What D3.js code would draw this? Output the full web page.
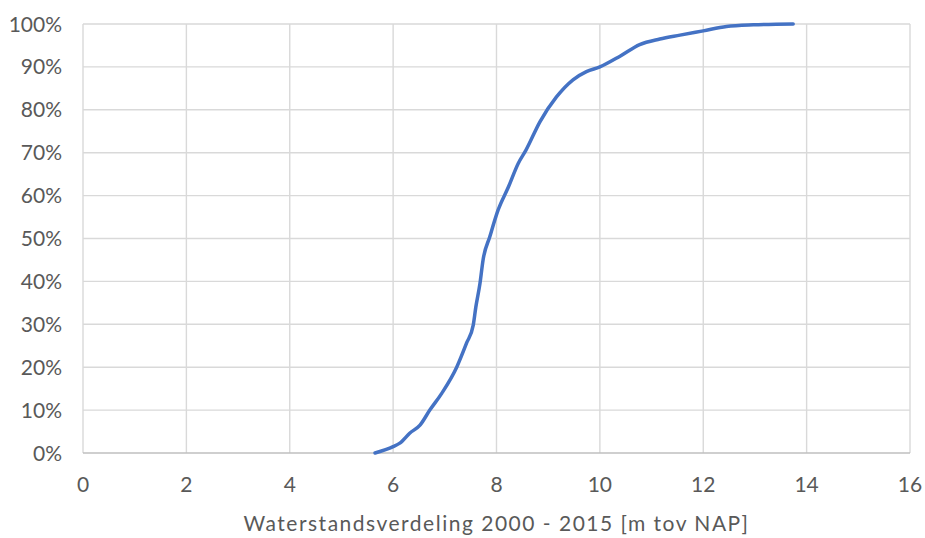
<!DOCTYPE html>
<html>
<head>
<meta charset="utf-8">
<script src="https://cdn.jsdelivr.net/npm/d3@7"></script>
<style>
  html, body { margin: 0; padding: 0; background: #ffffff; }
  svg { display: block; }
</style>
</head>
<body>
<svg id="chart" width="925" height="538"></svg>
<script>
// Cumulative distribution of water levels, 2000 - 2015 (m relative to NAP)
const waterLevel = [5.65, 6.0, 6.13, 6.32, 6.52, 6.71, 6.94, 7.23, 7.42, 7.55, 7.60, 7.68, 7.74, 7.87, 8.03, 8.23, 8.42, 8.57, 8.84, 9.16, 9.48, 9.74, 10.0, 10.39, 10.77, 11.16, 11.55, 12.0, 12.45, 12.97, 13.74];
const cumulativeShare = [0.0, 0.015, 0.023, 0.046, 0.065, 0.10, 0.139, 0.20, 0.256, 0.298, 0.34, 0.395, 0.45, 0.504, 0.566, 0.62, 0.675, 0.706, 0.772, 0.83, 0.87, 0.889, 0.90, 0.925, 0.952, 0.965, 0.974, 0.984, 0.994, 0.998, 1.0];
const xTicks = [0, 2, 4, 6, 8, 10, 12, 14, 16];
const yTicks = [0, 0.1, 0.2, 0.3, 0.4, 0.5, 0.6, 0.7, 0.8, 0.9, 1.0];
const xTitle = "Waterstandsverdeling 2000 - 2015 [m tov NAP]";

const svg = d3.select("#chart");
const margin = { left: 83, right: 15, top: 24, bottom: 85 };
const width = 925, height = 538;
const font = "Lato, 'Open Sans', sans-serif";

const x = d3.scaleLinear().domain([0, 16]).range([margin.left, width - margin.right]);
const y = d3.scaleLinear().domain([0, 1]).range([height - margin.bottom, margin.top]);

// vertical gridlines
svg.append("g").selectAll("line").data(xTicks).join("line")
  .attr("x1", d => x(d)).attr("x2", d => x(d))
  .attr("y1", y(1)).attr("y2", y(0))
  .attr("stroke", "#d9d9d9").attr("stroke-width", 1.4);

// horizontal gridlines
svg.append("g").selectAll("line").data(yTicks.filter(d => d > 0)).join("line")
  .attr("x1", x(0)).attr("x2", x(16))
  .attr("y1", d => y(d)).attr("y2", d => y(d))
  .attr("stroke", "#d9d9d9").attr("stroke-width", 1.4);

// horizontal axis line
svg.append("line")
  .attr("x1", x(0)).attr("x2", x(16))
  .attr("y1", y(0)).attr("y2", y(0))
  .attr("stroke", "#bfbfbf").attr("stroke-width", 1.4);

// y tick labels
svg.append("g").selectAll("text").data(yTicks).join("text")
  .attr("x", x(0) - 21).attr("y", d => y(d))
  .attr("dy", "0.36em")
  .attr("text-anchor", "end")
  .attr("font-family", font).attr("font-size", 21)
  .attr("fill", "#595959")
  .text(d => d3.format(".0%")(d));

// x tick labels
svg.append("g").selectAll("text").data(xTicks).join("text")
  .attr("x", d => x(d)).attr("y", y(0) + 31)
  .attr("dy", "0.36em")
  .attr("text-anchor", "middle")
  .attr("font-family", font).attr("font-size", 21)
  .attr("fill", "#595959")
  .text(d => d);

// axis title
svg.append("text")
  .attr("x", x(8)).attr("y", 523)
  .attr("dy", "0.36em")
  .attr("text-anchor", "middle")
  .attr("font-family", font).attr("font-size", 21)
  .attr("letter-spacing", 1.5)
  .attr("fill", "#595959")
  .text(xTitle);

// distribution curve
const pts = waterLevel.map((v, i) => [v, cumulativeShare[i]]);
const line = d3.line()
  .x(d => x(d[0])).y(d => y(d[1]))
  .curve(d3.curveMonotoneX);

svg.append("path")
  .datum(pts)
  .attr("d", line)
  .attr("fill", "none")
  .attr("stroke", "#4472c4")
  .attr("stroke-width", 3.5)
  .attr("stroke-linejoin", "round")
  .attr("stroke-linecap", "round");
</script>
</body>
</html>
